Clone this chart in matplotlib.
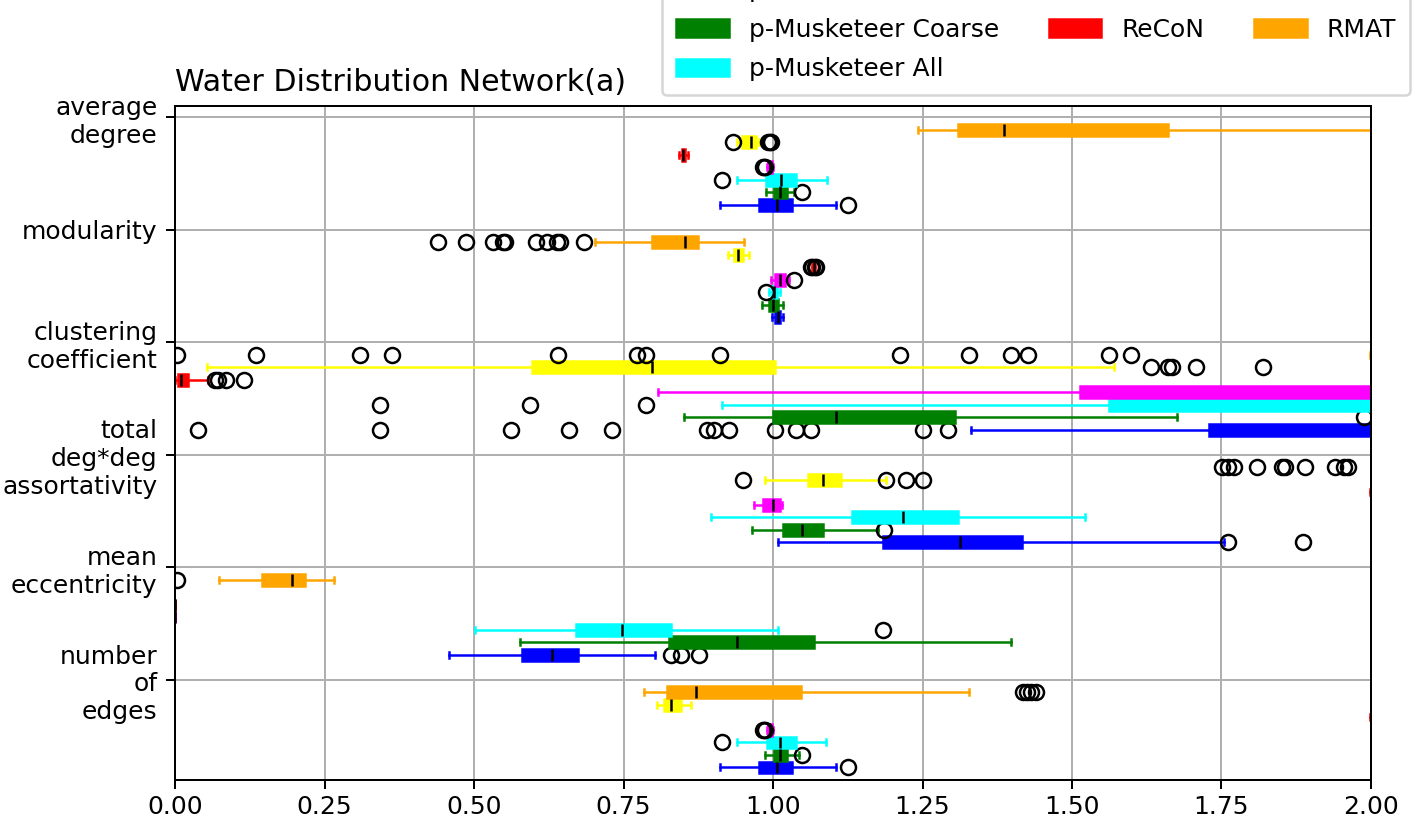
import matplotlib
matplotlib.use('Agg')
import matplotlib.pyplot as plt
from matplotlib.patches import Patch

#
# Metrics on the y axis (top to bottom)
#
metrics = ['average\ndegree', 'modularity', 'clustering\ncoefficient',
           'total\ndeg*deg\nassortativity', 'mean\neccentricity',
           'number\nof\nedges']

methods = ['p-Musketeer Fine', 'p-Musketeer Coarse', 'p-Musketeer All',
           'BTER', 'ReCoN', 'FF', 'RMAT']
colors  = ['blue', 'green', 'cyan', 'magenta', 'red', 'yellow', 'orange']

#
# Box statistics per metric: [whislo, q1, median, q3, whishi]
#
fine_stats = [[0.912, 0.977, 1.007, 1.032, 1.105],
              [0.999, 1.003, 1.008, 1.012, 1.016],
              [1.331, 1.729, 2.400, 2.700, 3.000],
              [1.008, 1.184, 1.313, 1.416, 1.754],
              [0.458, 0.581, 0.630, 0.674, 0.803],
              [0.912, 0.977, 1.007, 1.032, 1.105]]
fine_fliers = [[1.126], [],
               [0.039, 0.343, 0.561, 0.658, 0.731, 0.890, 0.901, 0.926,
                1.004, 1.039, 1.064, 1.251, 1.293],
               [1.761, 1.886], [0.829, 0.846, 0.876], [1.126]]

coarse_stats = [[0.989, 1.001, 1.011, 1.024, 1.035],
                [0.982, 0.993, 1.000, 1.008, 1.016],
                [0.851, 1.000, 1.105, 1.304, 1.675],
                [0.965, 1.016, 1.049, 1.083, 1.175],
                [0.577, 0.826, 0.940, 1.069, 1.398],
                [0.987, 1.001, 1.012, 1.024, 1.043]]
coarse_fliers = [[1.049], [], [1.989], [1.185], [], [1.049]]

all_stats = [[0.940, 0.989, 1.013, 1.038, 1.091],
             [0.993, 0.998, 1.002, 1.007, 1.012],
             [0.915, 1.562, 2.400, 2.700, 3.000],
             [0.896, 1.132, 1.218, 1.309, 1.522],
             [0.502, 0.670, 0.748, 0.829, 1.008],
             [0.939, 0.990, 1.012, 1.038, 1.089]]
all_fliers = [[0.915], [0.988], [0.343, 0.594, 0.787], [], [1.184], [0.915]]

bter_stats = [[0.990, 0.992, 0.995, 0.998, 1.000],
              [0.996, 1.003, 1.011, 1.020, 1.026],
              [0.808, 1.513, 2.400, 2.700, 3.000],
              [0.969, 0.984, 1.000, 1.012, 1.015],
              [0.000, 0.000, 0.000, 0.000, 0.000],
              [0.990, 0.992, 0.995, 0.998, 1.000]]
bter_fliers = [[0.983, 0.985, 0.987], [1.035], [], [], [], [0.983, 0.985, 0.987]]

recon_stats = [[0.843, 0.847, 0.850, 0.853, 0.857],
               [1.066, 1.067, 1.068, 1.069, 1.070],
               [0.000, 0.005, 0.010, 0.022, 0.055],
               [1.999, 2.300, 2.500, 2.700, 2.900],
               [0.000, 0.000, 0.000, 0.000, 0.000],
               [1.999, 2.300, 2.500, 2.700, 2.900]]
recon_fliers = [[], [1.064, 1.065, 1.071, 1.072],
                [0.067, 0.072, 0.085, 0.115], [], [], []]

ff_stats = [[0.940, 0.948, 0.963, 0.972, 0.976],
            [0.925, 0.935, 0.942, 0.950, 0.960],
            [0.053, 0.597, 0.798, 1.004, 1.571],
            [0.986, 1.059, 1.084, 1.114, 1.189],
            [2.200, 2.400, 2.600, 2.800, 3.000],
            [0.806, 0.818, 0.830, 0.846, 0.863]]
ff_fliers = [[0.933, 0.992, 0.995, 0.997], [],
             [1.632, 1.660, 1.668, 1.707, 1.819],
             [0.950, 1.189, 1.223, 1.251], [], []]

rmat_stats = [[1.243, 1.310, 1.387, 1.660, 2.500],
              [0.703, 0.798, 0.852, 0.874, 0.951],
              [1.998, 2.200, 2.500, 2.800, 3.000],
              [2.100, 2.300, 2.500, 2.700, 2.900],
              [0.0735, 0.146, 0.195, 0.217, 0.266],
              [0.784, 0.822, 0.872, 1.046, 1.327]]
rmat_fliers = [[],
               [0.440, 0.487, 0.532, 0.548, 0.552, 0.603, 0.622, 0.638, 0.643, 0.684],
               [0.003, 0.136, 0.310, 0.363, 0.641, 0.773, 0.787, 0.912,
                1.212, 1.327, 1.398, 1.427, 1.562, 1.598],
               [1.751, 1.761, 1.771, 1.809, 1.851, 1.856, 1.890, 1.940, 1.955, 1.962],
               [0.003],
               [1.418, 1.425, 1.432, 1.440]]

stats_by_method  = [fine_stats, coarse_stats, all_stats, bter_stats,
                    recon_stats, ff_stats, rmat_stats]
fliers_by_method = [fine_fliers, coarse_fliers, all_fliers, bter_fliers,
                    recon_fliers, ff_fliers, rmat_fliers]

#
# Plot
#
fig = plt.figure(figsize=(1415/180, 818/180), dpi=180)
ax = fig.add_axes([0.1237, 0.0465, 0.8452, 0.8239])
ax.set_axisbelow(True)
ax.grid(True)

nm = len(methods)
for m in range(nm):
    col = colors[m]
    bstats = []
    for j in range(len(metrics)):
        lo, q1, med, q3, hi = stats_by_method[m][j]
        bstats.append(dict(whislo=lo, q1=q1, med=med, q3=q3, whishi=hi,
                           fliers=fliers_by_method[m][j]))
    pos = [(nm + 2)*j + nm - m for j in range(len(metrics))]
    ax.bxp(bstats, positions=pos, widths=0.95, orientation='horizontal',
           patch_artist=True, manage_ticks=False,
           boxprops=dict(facecolor=col, edgecolor=col),
           whiskerprops=dict(color=col),
           capprops=dict(color=col),
           medianprops=dict(color='black'),
           flierprops=dict(marker='o', markerfacecolor='none',
                           markeredgecolor='black'))

ax.set_yticks([(nm + 2)*j for j in range(len(metrics))], metrics)
ax.set_ylim(53, -0.9)
ax.set_xlim(0, 2)
ax.tick_params(axis='x', pad=2.5)
ax.set_title('Water Distribution Network(a)', loc='left')

handles = [Patch(facecolor=c, edgecolor=c, label=l) for l, c in zip(methods, colors)]
fig.legend(handles=handles, loc='lower right', ncol=3, borderaxespad=0,
           labelspacing=0.62, borderpad=0.55, handlelength=2.1,
           bbox_to_anchor=(0.9965, 0.884))

fig.savefig('out.png', dpi=180)
